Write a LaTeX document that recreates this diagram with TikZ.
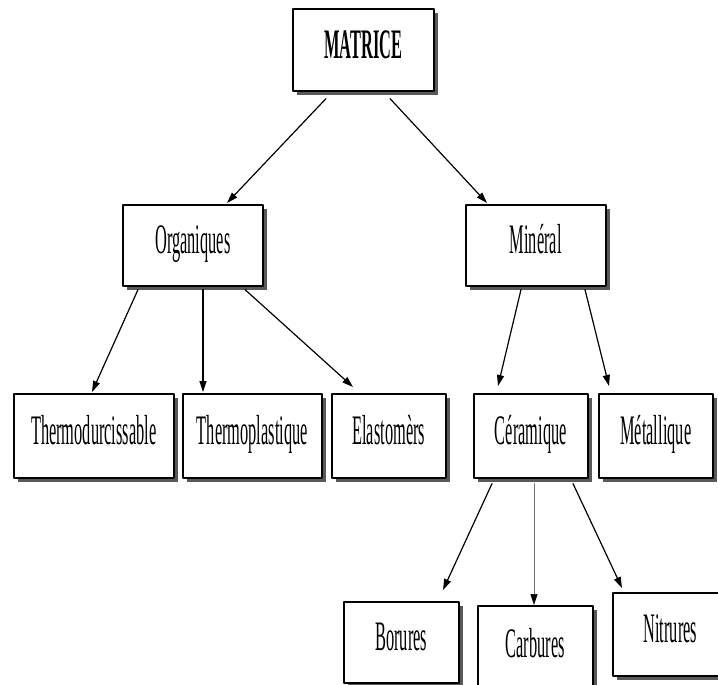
\documentclass[tikz,border=0pt]{standalone}
\usepackage{fontspec}
\setmainfont{Liberation Serif}[FakeStretch=0.39]
\usetikzlibrary{arrows.meta}
\usetikzlibrary{shadows}

\tikzset{
  box/.style={draw, line width=1.6pt, fill=white, anchor=north west,
    font=\fontsize{42}{46}\selectfont, text height=28pt, text depth=11pt,
    drop shadow={shadow xshift=4pt, shadow yshift=-4pt, fill=black!65, opacity=1}},
  link/.style={->, line width=1.2pt},
  thin link/.style={-{Triangle[length=11pt,width=7pt,color=black]}, line width=0.6pt, draw=black!55}
}

\begin{document}
\begin{tikzpicture}[line cap=round,line join=round,>={Triangle[length=11pt,width=7pt]},x=1pt,y=-1pt]
\clip(0,0) rectangle (718,685);
\fill[white] (0,0) rectangle (718,685);
% top
\node[box, minimum width=141pt, minimum height=82pt, font=\fontsize{42}{46}\selectfont\bfseries] (mat) at (292,8) {MATRICE};
% second row
\node[box, minimum width=140pt, minimum height=81pt] (org) at (122,204) {Organiques};
\node[box, minimum width=140pt, minimum height=81pt] (min) at (465,204) {Minéral};
% third row
\node[box, minimum width=160pt, minimum height=84pt] (thd) at (13,393) {Thermodurcissable};
\node[box, minimum width=139pt, minimum height=84pt] (thp) at (182,393) {Thermoplastique};
\node[box, minimum width=114pt, minimum height=84pt] (ela) at (331,393) {Elastomèrs};
\node[box, minimum width=114pt, minimum height=84pt] (cer) at (473,393) {Céramique};
\node[box, minimum width=114pt, minimum height=84pt] (met) at (598,393) {Métallique};
% bottom row
\node[box, minimum width=115pt, minimum height=81pt] (bor) at (343,601) {Borures};
\node[box, minimum width=115pt, minimum height=86pt] (car) at (477,605) {Carbures};
\node[box, minimum width=115pt, minimum height=83pt] (nit) at (612,592) {Nitrures};
% arrows
\draw[link] ([xshift=34pt,yshift=-7pt]mat.south west)-- ([xshift=105pt,yshift=1pt]org.north west);
\draw[link] ([xshift=98pt,yshift=-7pt]mat.south west)-- ([xshift=22pt,yshift=1pt]min.north west);
\draw[link] ([xshift=16pt,yshift=-3pt]org.south west)-- ([xshift=79pt,yshift=1pt]thd.north west);
\draw[link] ([xshift=81pt,yshift=-3pt]org.south west)-- ([xshift=21pt,yshift=1pt]thp.north west);
\draw[link] ([xshift=123pt,yshift=-3pt]org.south west)-- ([xshift=22pt,yshift=6pt]ela.north west);
\draw[link] ([xshift=56pt,yshift=-3pt]min.south west)-- ([xshift=25pt,yshift=7pt]cer.north west);
\draw[link] ([xshift=120pt,yshift=-3pt]min.south west)-- ([xshift=11pt,yshift=7pt]met.north west);
\draw[link] ([xshift=19pt,yshift=-5pt]cer.south west)-- ([xshift=100pt,yshift=11pt]bor.north west);
\draw[thin link] ([xshift=61pt,yshift=-5pt]cer.south west)-- ([xshift=57pt]car.north west);
\draw[link] ([xshift=100pt,yshift=-5pt]cer.south west)-- ([xshift=10pt,yshift=4pt]nit.north west);
\end{tikzpicture}
\end{document}
